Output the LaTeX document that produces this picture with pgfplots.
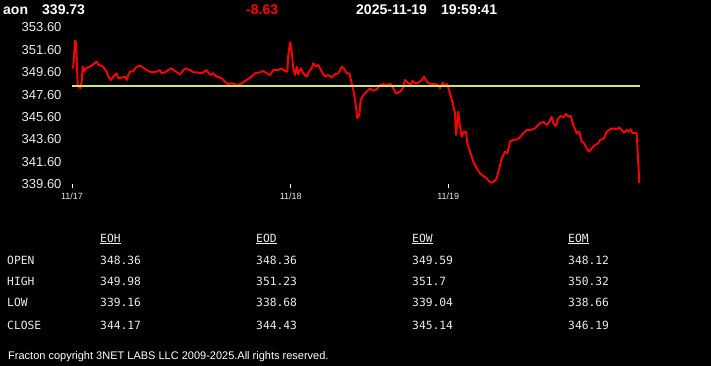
\documentclass[border=0pt]{standalone}
\usepackage{pgfplots}
\pgfplotsset{compat=1.18}
\usepackage{pgfplotstable}
\usepackage{fontspec}
\setmainfont{Liberation Sans}
\newfontfamily\monof{DejaVu Sans Mono}
\definecolor{hl}{RGB}{208,228,112}
\definecolor{lbl}{RGB}{235,235,235}
\pgfplotstableread{
x y
72.3 349.94
73.3 350.09
75 352.38
76 352.32
77 349.94
77.7 348.45
79 348.30
80.3 348.16
81.7 348.75
82.7 350.09
84 349.64
85.7 349.94
90 350.09
93.3 350.30
96.7 350.53
98.3 350.24
101.7 350.18
104.3 349.94
106.7 349.64
108.3 349.20
111 348.90
113.3 349.20
116.7 349.50
118.3 349.05
121.7 349.11
125 349.20
126.7 348.90
128.3 349.35
130 349.64
133.3 349.70
136.7 350.09
140 350.18
143.3 350.00
146.7 349.79
150 349.64
153.3 349.59
156.7 349.64
160 349.79
161.7 349.50
165 349.59
171 349.94
175 349.70
180 349.41
185 349.94
190 349.79
193.3 349.59
196.7 349.59
201.7 349.50
206.7 349.79
210 349.35
213.3 349.50
216.7 349.20
221.7 349.05
225 348.75
228.3 348.52
231.7 348.61
235 348.52
238.3 348.45
241.7 348.61
246.7 348.90
251.7 349.20
255 349.50
260 349.59
263.3 349.70
266.7 349.50
270 349.35
273.3 349.79
278.3 349.79
281.7 349.94
285 349.70
287.3 349.64
288.3 351.13
290 352.26
291.7 351.42
293.3 349.94
295 349.35
296.7 350.09
298.3 349.41
300.7 349.94
303.3 349.50
306.7 349.20
309.3 349.70
311.7 349.94
313.3 350.39
316 350.09
318.3 350.24
321.7 349.64
325 349.20
328.3 349.35
331.7 349.11
335 349.41
338.3 349.50
341.7 350.09
344 349.94
346.7 349.50
349.3 349.50
351.7 348.61
354 347.71
356 346.52
357.3 345.49
359.3 345.78
360.7 347.12
363.3 347.56
366.7 347.86
370 348.16
373.3 347.95
376.7 348.07
380 348.45
383.3 348.54
386.7 348.45
390.7 348.54
393.3 348.16
396 347.71
400 347.86
402.7 348.16
405 348.90
408.3 348.61
410.7 348.45
412.7 348.84
415 348.61
418.3 348.66
421.7 348.90
424 349.20
426.7 348.75
430 348.54
435 348.54
438.3 348.45
440 348.16
442.7 348.66
445 348.45
447.3 348.54
450 347.71
452.7 346.82
455 345.93
456 344.00
457.3 345.18
458.3 346.07
460 344.74
461.7 343.85
464 344.29
466 344.29
467.3 343.26
470 342.51
473.3 341.62
476.7 341.03
480 340.58
483.3 340.34
486.7 340.14
489.3 339.83
491.7 339.74
495 339.92
496.7 340.14
499.3 341.03
501.7 341.92
505 342.51
507.3 342.36
510 343.40
513.3 343.55
517.3 343.61
520.7 343.85
523.3 344.15
526.7 344.44
530.7 344.44
535 344.59
540 345.04
543.3 345.16
546.7 344.89
549.3 345.18
551.7 345.63
553.3 345.04
556 344.80
558.3 345.49
560.7 345.69
563.3 345.57
566 345.87
568.3 345.63
570.7 345.69
573.3 344.89
576.7 344.15
579.3 344.29
581.7 343.40
584 343.26
586.7 342.81
589 342.51
591.7 342.81
595 343.10
598.3 343.26
600 343.55
604 343.70
606.7 344.29
610 344.50
613.3 344.59
616.7 344.50
619.3 344.68
621.7 344.44
624 344.20
626.7 344.44
628.3 344.29
630.7 344.50
632.7 344.15
635 344.20
636.7 344.15
638.3 341.47
639.3 339.73
}\price
\begin{document}
\begin{tikzpicture}
\fill[black] (0pt,0pt) rectangle (711pt,-366pt);
\path[use as bounding box] (0pt,0pt) rectangle (711pt,-366pt);
\begin{axis}[
  at={(72pt,-184.3pt)}, anchor=south west,
  scale only axis, width=568pt, height=157pt,
  xmin=72, xmax=640, ymin=339.6, ymax=353.6,
  clip=false,
  axis line style={draw=none},
  xtick={72,290.7,448.3},
  xticklabels={11/17,11/18,11/19},
  ytick={339.6,341.6,343.6,345.6,347.6,349.6,351.6,353.6},
  xtick pos=lower, ytick pos=left,
  tick align=outside,
  major tick length=3.5pt,
  xtick style={draw=white, line width=0.8pt},
  ytick style={draw=none},
  xticklabel style={font=\fontsize{9}{10}\selectfont, text=lbl, yshift=-2pt},
  yticklabel style={font=\fontsize{13}{14}\selectfont, text=lbl, xshift=-3.5pt},
  /pgf/number format/.cd, fixed, fixed zerofill, precision=2, 1000 sep={}, assume math mode=true,
]
\addplot[red, line width=1.9pt, line join=round] table[x=x,y=y] {\price};
\addplot[hl, line width=2.6pt] coordinates {(72,348.36) (640,348.36)};
\end{axis}
% header
\node[anchor=base west, inner sep=0, text=white, font=\bfseries\fontsize{14}{16}\selectfont] at (3pt,-15pt) {aon};
\node[anchor=base west, inner sep=0, text=white, font=\bfseries\fontsize{14}{16}\selectfont] at (42pt,-15pt) {339.73};
\node[anchor=base west, inner sep=0, text=red, font=\bfseries\fontsize{14}{16}\selectfont] at (246pt,-15pt) {-8.63};
\node[anchor=base west, inner sep=0, text=white, font=\bfseries\fontsize{14}{16}\selectfont] at (356pt,-15pt) {2025-11-19\hspace{14pt}19:59:41};
% table
\begin{scope}[every node/.style={anchor=base west, inner sep=0, text=lbl, font=\monof\fontsize{11.3}{13}\selectfont}]
\node at (100pt,-242pt) {\underline{EOH}};
\node at (256pt,-242pt) {\underline{EOD}};
\node at (412pt,-242pt) {\underline{EOW}};
\node at (568pt,-242pt) {\underline{EOM}};
\node at (7pt,-264pt) {OPEN};
\node at (7pt,-285pt) {HIGH};
\node at (7pt,-306pt) {LOW};
\node at (7pt,-329pt) {CLOSE};
\node at (100pt,-264pt) {348.36};
\node at (256pt,-264pt) {348.36};
\node at (412pt,-264pt) {349.59};
\node at (568pt,-264pt) {348.12};
\node at (100pt,-285pt) {349.98};
\node at (256pt,-285pt) {351.23};
\node at (412pt,-285pt) {351.7};
\node at (568pt,-285pt) {350.32};
\node at (100pt,-306pt) {339.16};
\node at (256pt,-306pt) {338.68};
\node at (412pt,-306pt) {339.04};
\node at (568pt,-306pt) {338.66};
\node at (100pt,-329pt) {344.17};
\node at (256pt,-329pt) {344.43};
\node at (412pt,-329pt) {345.14};
\node at (568pt,-329pt) {346.19};
\end{scope}
\node[anchor=base west, inner sep=0, text=white, font=\fontsize{11}{12}\selectfont] at (8pt,-359.5pt) {Fracton copyright 3NET LABS LLC 2009-2025.All rights reserved.};
\end{tikzpicture}
\end{document}
